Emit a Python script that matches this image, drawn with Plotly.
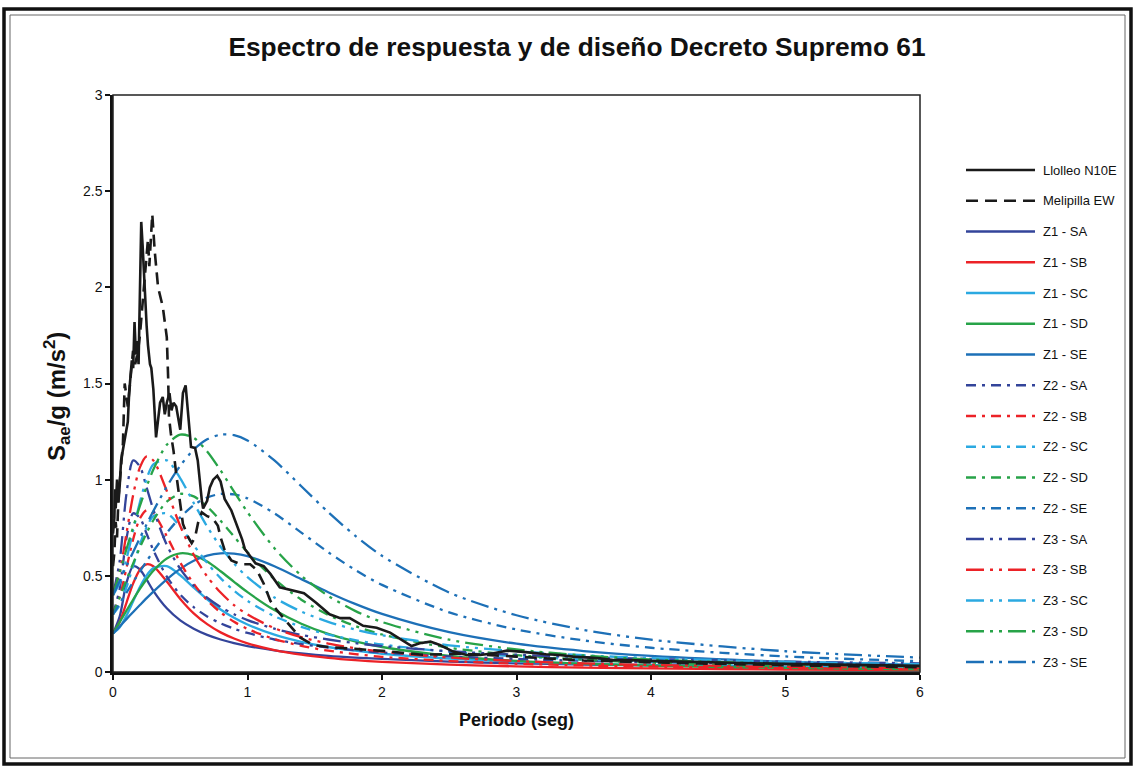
import plotly.graph_objects as go

# ---------------- data ----------------
periods = [0, 0.05, 0.1, 0.15, 0.2, 0.25, 0.3, 0.4, 0.5, 0.6, 0.7, 0.8, 0.9, 1.0,
           1.2, 1.4, 1.6, 1.8, 2.0, 2.5, 3.0, 3.5, 4.0, 5.0, 6.0]

z1_sa = [0.200, 0.289, 0.463, 0.550, 0.534, 0.480, 0.422, 0.331, 0.268, 0.225, 0.193, 0.169, 0.150, 0.135,
         0.113, 0.097, 0.084, 0.075, 0.068, 0.054, 0.045, 0.039, 0.034, 0.027, 0.023]
z1_sb = [0.200, 0.260, 0.360, 0.461, 0.532, 0.560, 0.550, 0.470, 0.380, 0.305, 0.249, 0.206, 0.174, 0.149,
         0.114, 0.090, 0.074, 0.062, 0.053, 0.038, 0.029, 0.023, 0.019, 0.013, 0.010]
z1_sc = [0.200, 0.232, 0.293, 0.368, 0.442, 0.502, 0.540, 0.550, 0.503, 0.439, 0.378, 0.325, 0.282, 0.247,
         0.194, 0.157, 0.130, 0.111, 0.095, 0.070, 0.054, 0.043, 0.036, 0.026, 0.020]
z1_sd = [0.200, 0.260, 0.319, 0.377, 0.432, 0.482, 0.526, 0.590, 0.617, 0.608, 0.574, 0.524, 0.469, 0.415,
         0.322, 0.251, 0.198, 0.159, 0.130, 0.084, 0.058, 0.043, 0.033, 0.021, 0.014]
z1_se = [0.200, 0.237, 0.275, 0.312, 0.348, 0.384, 0.418, 0.482, 0.536, 0.578, 0.605, 0.617, 0.615, 0.602,
         0.550, 0.483, 0.415, 0.354, 0.302, 0.207, 0.147, 0.109, 0.084, 0.054, 0.037]

z2_sa = [0.300, 0.434, 0.694, 0.825, 0.801, 0.719, 0.633, 0.496, 0.402, 0.337, 0.289, 0.253, 0.225, 0.203,
         0.169, 0.145, 0.127, 0.113, 0.101, 0.081, 0.068, 0.058, 0.051, 0.041, 0.034]
z2_sb = [0.300, 0.390, 0.540, 0.691, 0.798, 0.841, 0.825, 0.706, 0.569, 0.458, 0.373, 0.310, 0.261, 0.224,
         0.171, 0.136, 0.111, 0.093, 0.079, 0.057, 0.043, 0.034, 0.028, 0.020, 0.015]
z2_sc = [0.300, 0.348, 0.440, 0.552, 0.663, 0.753, 0.810, 0.825, 0.755, 0.659, 0.567, 0.488, 0.423, 0.370,
         0.290, 0.235, 0.195, 0.166, 0.143, 0.105, 0.081, 0.065, 0.054, 0.039, 0.031]
z2_sd = [0.300, 0.390, 0.479, 0.565, 0.648, 0.723, 0.789, 0.886, 0.926, 0.913, 0.860, 0.786, 0.704, 0.623,
         0.483, 0.376, 0.297, 0.239, 0.195, 0.126, 0.088, 0.064, 0.049, 0.031, 0.022]
z2_se = [0.300, 0.356, 0.412, 0.468, 0.523, 0.576, 0.628, 0.723, 0.804, 0.867, 0.907, 0.926, 0.923, 0.903,
         0.825, 0.725, 0.623, 0.531, 0.453, 0.310, 0.221, 0.164, 0.126, 0.081, 0.056]

z3_sa = [0.400, 0.579, 0.926, 1.100, 1.068, 0.959, 0.844, 0.661, 0.536, 0.449, 0.386, 0.338, 0.300, 0.270,
         0.225, 0.193, 0.169, 0.150, 0.135, 0.108, 0.090, 0.077, 0.068, 0.054, 0.045]
z3_sb = [0.400, 0.520, 0.720, 0.921, 1.064, 1.121, 1.100, 0.941, 0.759, 0.610, 0.497, 0.413, 0.348, 0.299,
         0.228, 0.181, 0.148, 0.124, 0.106, 0.075, 0.057, 0.045, 0.037, 0.027, 0.020]
z3_sc = [0.400, 0.464, 0.587, 0.736, 0.883, 1.004, 1.080, 1.100, 1.007, 0.879, 0.756, 0.651, 0.564, 0.493,
         0.387, 0.314, 0.261, 0.221, 0.191, 0.139, 0.108, 0.087, 0.072, 0.053, 0.041]
z3_sd = [0.400, 0.520, 0.638, 0.754, 0.864, 0.964, 1.053, 1.181, 1.234, 1.217, 1.147, 1.048, 0.938, 0.831,
         0.644, 0.501, 0.396, 0.318, 0.260, 0.168, 0.117, 0.086, 0.065, 0.042, 0.029]
z3_se = [0.400, 0.475, 0.550, 0.624, 0.697, 0.768, 0.837, 0.964, 1.072, 1.156, 1.210, 1.234, 1.231, 1.204,
         1.100, 0.966, 0.831, 0.709, 0.604, 0.413, 0.295, 0.219, 0.168, 0.108, 0.075]

llolleo_t = [0.00, 0.01, 0.015, 0.02, 0.03, 0.04, 0.05, 0.06, 0.08, 0.10, 0.11, 0.12, 0.13, 0.14, 0.15,
             0.16, 0.17, 0.18, 0.19, 0.20, 0.21, 0.22, 0.235, 0.25, 0.26, 0.275, 0.285, 0.30, 0.32, 0.335,
             0.35, 0.37, 0.385, 0.40, 0.42, 0.435, 0.45, 0.47, 0.49, 0.50, 0.52, 0.54, 0.56, 0.58, 0.61,
             0.63, 0.66, 0.67, 0.70, 0.72, 0.745, 0.775, 0.80, 0.83, 0.88, 0.92, 0.96, 0.98, 1.01, 1.06,
             1.12, 1.17, 1.24, 1.34, 1.42, 1.51, 1.61, 1.69, 1.76, 1.86, 1.96, 2.06, 2.16, 2.22, 2.28,
             2.36, 2.43, 2.53, 2.63, 2.73, 2.83, 2.93, 3.03, 3.13, 3.22, 3.32, 3.42, 3.52, 3.62, 3.72,
             3.83, 4.0, 4.3, 4.6, 5.0, 5.5, 6.0]
llolleo_sa = [0.72, 0.80, 0.95, 0.85, 1.00, 0.88, 0.97, 1.10, 1.18, 1.27, 1.30, 1.45, 1.52, 1.62, 1.58,
              1.82, 1.65, 1.72, 1.60, 2.00, 2.34, 2.22, 1.99, 1.80, 1.70, 1.60, 1.58, 1.47, 1.22, 1.30,
              1.40, 1.43, 1.34, 1.40, 1.45, 1.36, 1.40, 1.38, 1.30, 1.26, 1.45, 1.49, 1.33, 1.17, 1.165,
              1.10, 0.895, 0.85, 0.89, 0.96, 1.00, 1.02, 0.99, 0.90, 0.84, 0.77, 0.69, 0.64, 0.61, 0.565,
              0.55, 0.51, 0.44, 0.425, 0.41, 0.36, 0.30, 0.28, 0.28, 0.24, 0.23, 0.205, 0.16, 0.135, 0.149,
              0.158, 0.14, 0.106, 0.088, 0.088, 0.097, 0.111, 0.106, 0.097, 0.092, 0.088, 0.080, 0.076, 0.071, 0.062,
              0.062, 0.058, 0.052, 0.048, 0.042, 0.036, 0.032]

melipilla_t = [0.00, 0.01, 0.02, 0.03, 0.04, 0.05, 0.06, 0.074, 0.087, 0.10, 0.11, 0.124, 0.135, 0.149,
               0.165, 0.186, 0.20, 0.223, 0.24, 0.25, 0.26, 0.27, 0.285, 0.292, 0.31, 0.335, 0.37, 0.40,
               0.41, 0.416, 0.43, 0.45, 0.47, 0.50, 0.52, 0.56, 0.585, 0.61, 0.634, 0.66, 0.70, 0.74,
               0.78, 0.80, 0.83, 0.88, 0.95, 1.02, 1.07, 1.12, 1.17, 1.22, 1.28, 1.34, 1.39, 1.49, 1.6,
               1.8, 2.0, 2.3, 2.6, 3.0, 3.5, 4.0, 4.5, 5.0, 5.5, 6.0]
melipilla_sa = [0.55, 0.62, 0.78, 0.70, 0.90, 0.98, 1.10, 1.19, 1.50, 1.43, 1.38, 1.48, 1.55, 1.67,
                1.60, 1.67, 1.75, 1.93, 2.10, 2.18, 2.25, 2.11, 2.33, 2.38, 2.19, 2.00, 1.90, 1.74,
                1.53, 1.33, 1.24, 1.15, 1.03, 0.86, 0.77, 0.70, 0.67, 0.70, 0.78, 0.83, 0.81, 0.80,
                0.76, 0.70, 0.634, 0.58, 0.56, 0.56, 0.53, 0.46, 0.37, 0.32, 0.27, 0.22, 0.18, 0.14, 0.13,
                0.12, 0.11, 0.09, 0.095, 0.08, 0.06, 0.05, 0.042, 0.035, 0.03, 0.025]

series_names = ["Llolleo N10E", "Melipilla EW",
                "Z1 - SA", "Z1 - SB", "Z1 - SC", "Z1 - SD", "Z1 - SE",
                "Z2 - SA", "Z2 - SB", "Z2 - SC", "Z2 - SD", "Z2 - SE",
                "Z3 - SA", "Z3 - SB", "Z3 - SC", "Z3 - SD", "Z3 - SE"]

# ---------------- styles ----------------
FONT = "Liberation Sans, Arial, sans-serif"
soil_colors = {"SA": "#33449A", "SB": "#EC2227", "SC": "#2BA9E1", "SD": "#27A348", "SE": "#1D70B7"}
zone_dash = {"Z1": "solid", "Z2": "10px,6px,3px,6px", "Z3": "18px,6px,3px,6px,3px,6px"}

design = {
    "Z1 - SA": z1_sa, "Z1 - SB": z1_sb, "Z1 - SC": z1_sc, "Z1 - SD": z1_sd, "Z1 - SE": z1_se,
    "Z2 - SA": z2_sa, "Z2 - SB": z2_sb, "Z2 - SC": z2_sc, "Z2 - SD": z2_sd, "Z2 - SE": z2_se,
    "Z3 - SA": z3_sa, "Z3 - SB": z3_sb, "Z3 - SC": z3_sc, "Z3 - SD": z3_sd, "Z3 - SE": z3_se,
}

styles = {"Llolleo N10E": ("#1a1a1a", "solid"), "Melipilla EW": ("#1a1a1a", "12px,7px")}
for name in design:
    z, s = name.split(" - ")
    styles[name] = (soil_colors[s], zone_dash[z])

fig = go.Figure()
for name, vals in design.items():
    c, d = styles[name]
    fig.add_trace(go.Scatter(x=periods, y=vals, mode="lines", name=name, showlegend=False,
                             line=dict(color=c, dash=d, width=2.3, shape="spline", smoothing=0.8)))

fig.add_trace(go.Scatter(x=melipilla_t, y=melipilla_sa, mode="lines", name="Melipilla EW", showlegend=False,
                         line=dict(color=styles["Melipilla EW"][0], dash=styles["Melipilla EW"][1], width=2.6)))
fig.add_trace(go.Scatter(x=llolleo_t, y=llolleo_sa, mode="lines", name="Llolleo N10E", showlegend=False,
                         line=dict(color=styles["Llolleo N10E"][0], dash="solid", width=2.6)))

# ---------------- layout ----------------
L, R, T, B = 113, 920, 95, 672
W, H = 1135, 768


def px(x):
    return (x - L) / (R - L)


def py(y):
    return (B - y) / (B - T)


shapes = []
annotations = []
# outer double frame
shapes.append(dict(type="rect", xref="paper", yref="paper", x0=px(4), x1=px(1131), y0=py(9), y1=py(764),
                   line=dict(color="#111111", width=3.5), layer="above"))
shapes.append(dict(type="rect", xref="paper", yref="paper", x0=px(10), x1=px(1125), y0=py(15), y1=py(758),
                   line=dict(color="#666666", width=1), layer="above"))
# thin plot-area frame (top / right)
shapes.append(dict(type="rect", xref="paper", yref="paper", x0=0, x1=1, y0=0, y1=1,
                   line=dict(color="#222222", width=1.5), layer="above"))

# manual legend
for i, name in enumerate(series_names):
    yy = 170 + i * 30.75
    c, d = styles[name]
    shapes.append(dict(type="line", xref="paper", yref="paper", x0=px(966), x1=px(1035), y0=py(yy), y1=py(yy),
                       line=dict(color=c, dash=d, width=2.6)))
    annotations.append(dict(xref="paper", yref="paper", x=px(1041), y=py(yy), text=name, showarrow=False,
                            xanchor="left", yanchor="middle", font=dict(family=FONT, size=13, color="#111111")))

# y-axis title
annotations.append(dict(xref="paper", yref="paper", x=px(57), y=py(396), textangle=-90, showarrow=False,
                        xanchor="center", yanchor="middle",
                        text="<b>S<sub>ae</sub>/g (m/s<sup>2</sup>)</b>",
                        font=dict(family=FONT, size=24, color="#111111")))

fig.update_layout(
    width=W, height=H,
    margin=dict(l=L, r=W - R, t=T, b=H - B, pad=0),
    paper_bgcolor="white", plot_bgcolor="white",
    title=dict(text="<b>Espectro de respuesta y de diseño Decreto Supremo 61</b>",
               x=577 / W, xanchor="center", y=1 - 47 / H, yanchor="middle",
               font=dict(family=FONT, size=26.3, color="#111111")),
    shapes=shapes, annotations=annotations,
    showlegend=False,
)
fig.update_xaxes(range=[0, 6], dtick=1, showgrid=False, zeroline=False,
                 showline=True, linecolor="#111111", linewidth=2.5,
                 ticks="outside", ticklen=5, tickwidth=1.5, tickcolor="#111111",
                 tickfont=dict(family=FONT, size=14, color="#111111"),
                 title=dict(text="<b>Periodo (seg)</b>", font=dict(family=FONT, size=18, color="#111111"),
                            standoff=15))
fig.update_yaxes(range=[0, 3], dtick=0.5, showgrid=False, zeroline=False,
                 showline=True, linecolor="#111111", linewidth=2.5,
                 ticks="outside", ticklen=5, tickwidth=1.5, tickcolor="#111111",
                 tickfont=dict(family=FONT, size=14, color="#111111"))

fig.write_html("out.html", config={"displayModeBar": False},
               post_script="document.body.style.margin='0px';")
